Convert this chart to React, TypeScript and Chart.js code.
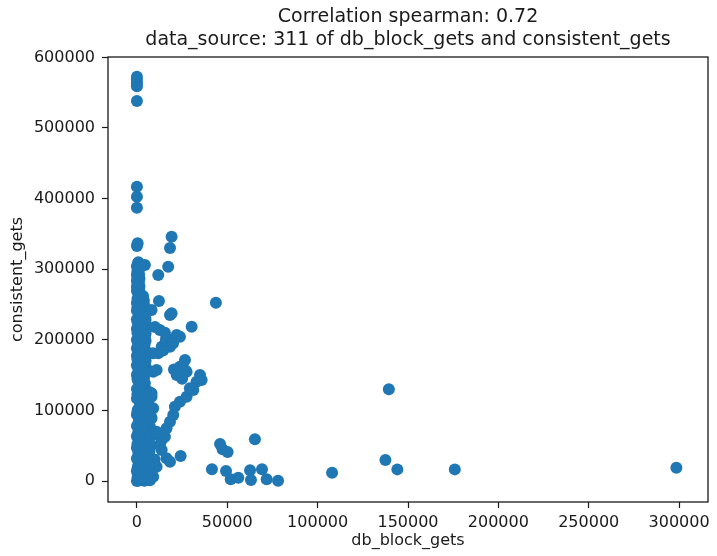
import { useEffect, useRef } from "react";
import { Chart, registerables } from "chart.js";

Chart.register(...registerables);

// Text shown around the plot
const titleLines = [
  "Correlation spearman: 0.72",
  "data_source: 311 of db_block_gets and consistent_gets",
];
const xAxisLabel = "db_block_gets";
const yAxisLabel = "consistent_gets";

// Tick positions
const xTickValues = [0, 50000, 100000, 150000, 200000, 250000, 300000];
const yTickValues = [0, 100000, 200000, 300000, 400000, 500000, 600000];

// Paired samples: db_block_gets (x) and consistent_gets (y), index by index
const dbBlockGets = [
  // low db_block_gets, consistent_gets below 130k
  0, 1200, 2600, 4100, 5600, 7200, 9000, 400, 3000, 6100,
  1800, 4700, 0, 8300, 2900, 10900, 600, 5200, 3800, 7400,
  1500, 0, 4400, 9800, 2200, 6600, 800, 3600, 5400, 0,
  2500, 7800, 4200, 1000, 6000, 3100, 0, 8400, 5100, 1700,
  3900, 7200, 0, 2600, 5800, 1200, 8100, 4300, 0, 6900,
  2800, 9000, 500, 4700, 1900, 6200, 3400, 0, 8100, 5300,
  1600, 8100, 3800,
  2000, 5000, 300, 6500, 3300, 900, 5800, 2700, 7000, 1400,
  4500, 300, 6500, 2200, 4800, 600, 7000, 3000, 1000, 4900,
  2100, 7600, 300, 3900, 6600, 1400, 5500, 2700, 300, 6800,
  // low db_block_gets, consistent_gets 130k–265k
  0, 4200, 2300, 4400, 700, 3600, 2900, 0, 4700, 1800,
  3600, 0, 4300, 1500, 3900, 0, 4600, 2400, 4600, 0,
  1900, 4200, 3200, 0, 4400, 1100, 4800, 2700, 0, 4500,
  1700, 3500, 0, 4600, 1300, 3800, 0, 4200, 2100, 0,
  3800, 1000, 3400,
  4600, 1800, 3200, 300, 4000, 2100, 3900, 700, 4700, 2500,
  4800, 300, 4600, 1600, 4200, 3200, 700, 4800, 2400, 4000,
  300, 4300, 2200, 4700, 400, 4800, 2700, 4600, 300, 3900,
  3000, 300, 2000, 1800,
  // low db_block_gets, consistent_gets 265k–310k
  1500, 0, 1200, 1400, 800, 0, 1400, 0, 600, 1000,
  0, 600, 800, 400, 1100, 300, 1200, 300, 1200, 0,
  // rising band and side points
  16400, 18300, 13700, 12700, 13700, 15500, 10900, 16400, 18300, 20100,
  21000, 23800, 27500, 31200, 29300, 33000, 35800, 34900, 6100, 9000,
  27500, 23800, 26600, 11800, 8900, 13700, 18300, 22000, 30300, 10000,
  18300, 8100, 12200, 43700, 11800, 17300, 4400,
  12700, 26600, 18300, 19200, 24200, 23800, 10900,
  16000, 14500, 20000, 15500, 22000, 25000, 20500,
  // high consistent_gets
  0, 400, 19200, 18300, 0, 0, 0, 0, 0, 0,
  0, 0,
  // high db_block_gets
  46000, 47400, 50200, 65300, 41500, 49300, 51900, 56100, 62600, 63100,
  69200, 71800, 78100, 108000, 137500, 139400, 144100, 175900, 298500,
];

const consistentGets = [
  // low db_block_gets, consistent_gets below 130k
  0, 800, 1500, 300, 2000, 1200, 6100, 5200, 7000, 8500,
  11000, 12500, 14000, 15000, 17500, 20300, 21000, 22500, 26000, 27000,
  29000, 32000, 33500, 30500, 36000, 38000, 40500, 42000, 45000, 47000,
  49500, 50500, 53500, 56000, 58000, 61000, 63500, 64500, 67000, 70000,
  72500, 76900, 78000, 80500, 82000, 86000, 88800, 90000, 94000, 96000,
  98000, 103000, 101000, 104500, 108000, 110500, 113500, 117000, 119400, 121000,
  124000, 124200, 127500,
  3500, 9500, 17000, 19000, 24000, 27500, 31000, 39000, 43000, 44500,
  48000, 52500, 54500, 59500, 63000, 67500, 70500, 75000, 83000, 86500,
  91500, 93000, 98000, 100500, 104000, 113000, 116000, 120000, 123000, 126000,
  // low db_block_gets, consistent_gets 130k–265k
  130500, 132000, 135000, 138500, 141500, 144000, 147000, 150500, 153000, 157500,
  161000, 164000, 166500, 170000, 174000, 177500, 179000, 182000, 185500, 188000,
  191500, 193000, 196500, 200000, 203000, 206000, 209000, 212000, 215500, 219000,
  222500, 226000, 229000, 231000, 234500, 238000, 241500, 245000, 248000, 252000,
  256000, 259500, 262000,
  129500, 133000, 141000, 145000, 148000, 152000, 156500, 160000, 162500, 167000,
  170500, 172000, 176500, 180000, 184500, 188500, 195000, 198500, 202000, 205000,
  210000, 213500, 217000, 223000, 225000, 228000, 232000, 241000, 246000, 250000,
  253500, 258000, 260000, 262500,
  // low db_block_gets, consistent_gets 265k–310k
  265500, 269000, 272000, 276000, 280000, 283500, 287000, 292000, 295500, 299000,
  304000, 308500, 310000, 278500, 283000, 288000, 293000, 297000, 301500, 275000,
  // rising band and side points
  32100, 27300, 43900, 51000, 58100, 62700, 69800, 74600, 84000, 93500,
  105200, 112300, 119400, 128900, 131300, 140600, 143100, 150100, 157000, 154800,
  154800, 161900, 171400, 180900, 181000, 190200, 199700, 206800, 218600, 218000,
  235100, 242200, 255000, 252500, 291800, 303500, 306000,
  213900, 157200, 190200, 237500, 35400, 204400, 157200,
  200000, 185000, 195000, 210000, 150000, 145000, 158000,
  // high consistent_gets
  333000, 336700, 346000, 330000, 387100, 402700, 416800, 538200, 559000, 563500,
  568000, 572600,
  // high db_block_gets
  52400, 44900, 41100, 59000, 16600, 14200, 2400, 4700, 15100, 1400,
  16600, 2400, 400, 11800, 29700, 129900, 16500, 16500, 18900,
];

const FONT = "'DejaVu Sans', sans-serif";
const INK = "#1a1a1a";
const MARK = "#1f77b4";

// Draws the four-sided frame, the two-line title and the axis labels
const frameAndLabels = {
  id: "frameAndLabels",
  afterDraw(chart: any) {
    const { ctx, chartArea: a } = chart;
    ctx.save();
    ctx.strokeStyle = INK;
    ctx.lineWidth = 1.3;
    ctx.strokeRect(a.left, a.top, a.right - a.left, a.bottom - a.top);

    ctx.fillStyle = INK;
    ctx.textAlign = "center";
    ctx.textBaseline = "middle";
    const cx = (a.left + a.right) / 2;
    ctx.font = `19px ${FONT}`;
    ctx.fillText(titleLines[0], cx, 17);
    ctx.fillText(titleLines[1], cx, 40);

    ctx.font = `16px ${FONT}`;
    ctx.fillText(xAxisLabel, cx, 541);
    ctx.translate(18, (a.top + a.bottom) / 2);
    ctx.rotate(-Math.PI / 2);
    ctx.fillText(yAxisLabel, 0, 0);
    ctx.restore();
  },
};

export default function App() {
  const canvasRef = useRef<HTMLCanvasElement | null>(null);

  useEffect(() => {
    if (!canvasRef.current) return;
    const points = dbBlockGets.map((x, i) => ({ x, y: consistentGets[i] }));

    const tickStyle = {
      display: true,
      drawOnChartArea: false,
      drawTicks: true,
      tickLength: 6,
      tickWidth: 1.2,
      tickColor: INK,
      color: INK,
    };

    const chart = new Chart(canvasRef.current, {
      type: "scatter",
      data: {
        datasets: [
          {
            data: points,
            backgroundColor: MARK,
            borderWidth: 0,
            pointRadius: 6,
            pointHoverRadius: 6,
          },
        ],
      },
      options: {
        animation: false,
        responsive: false,
        events: [],
        layout: { padding: { top: 57, right: 9, left: 0, bottom: 0 } },
        plugins: {
          legend: { display: false },
          title: { display: false },
          tooltip: { enabled: false },
        },
        scales: {
          x: {
            type: "linear",
            min: -16000,
            max: 316000,
            border: { display: false },
            grid: tickStyle,
            afterBuildTicks: (scale: any) => {
              scale.ticks = xTickValues.map((v) => ({ value: v }));
            },
            afterFit: (scale: any) => {
              scale.height = 54;
            },
            ticks: {
              autoSkip: false,
              maxRotation: 0,
              padding: 5,
              color: INK,
              font: { family: FONT, size: 16 },
              callback: (v: any) => String(v),
            },
          },
          y: {
            type: "linear",
            min: -29700,
            max: 600500,
            border: { display: false },
            grid: tickStyle,
            afterBuildTicks: (scale: any) => {
              scale.ticks = yTickValues.map((v) => ({ value: v }));
            },
            afterFit: (scale: any) => {
              scale.width = 108;
            },
            ticks: {
              autoSkip: false,
              padding: 7,
              color: INK,
              font: { family: FONT, size: 16 },
              callback: (v: any) => String(v),
            },
          },
        },
      },
      plugins: [frameAndLabels],
    });

    return () => chart.destroy();
  }, []);

  return (
    <div style={{ position: "absolute", left: 0, top: 0, width: 717, height: 556, background: "#fff" }}>
      <canvas ref={canvasRef} width={717} height={556} />
    </div>
  );
}
